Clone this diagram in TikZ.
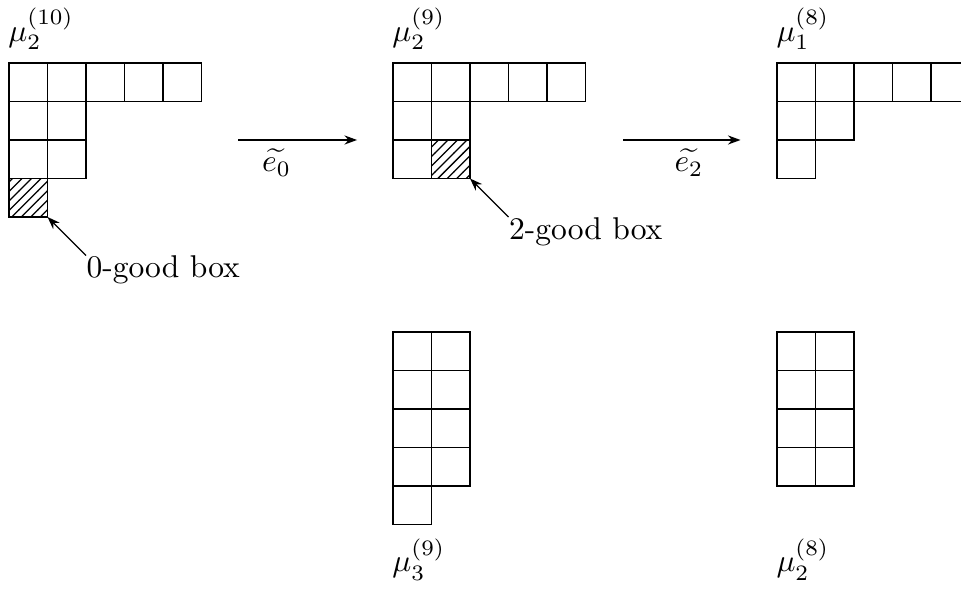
\documentclass[tikz,border=0pt]{standalone}
\usepackage{tikz}
\usetikzlibrary{arrows.meta, calc, patterns}
\usepackage{amsmath}

\begin{document}
\begin{tikzpicture}[
  x=12.22pt, y=12.22pt,
  ybox/.style={draw=black, line width=0.4pt},
  yhatch/.style={pattern=north east lines},
  flow/.style={draw=black, line width=0.4pt, -{Stealth[length=4pt, width=2.9pt]}},
  ptr/.style={draw=black, line width=0.4pt, -{Stealth[length=4pt, width=2.9pt]}},
  lab/.style={inner sep=0pt}
]
\clip (-0.234,1.636) rectangle (24.727,-13.637);

%--------------------------------------------------------------
% Origini dei diagrammi di Young (angolo in alto a sinistra)
%--------------------------------------------------------------
\coordinate (dA) at (0,0);
\coordinate (dB) at (9.974,0);
\coordinate (dC) at (19.948,0);
\coordinate (dD) at (9.974,-6.987);
\coordinate (dE) at (19.948,-6.987);

% caselle buone (tratteggiate)
\fill[yhatch] ($(dA)+(0,-3)$) rectangle ++(1,-1);
\fill[yhatch] ($(dB)+(1,-2)$) rectangle ++(1,-1);

% caselle, riga per riga
\foreach \d/\r/\n in {dA/1/5, dA/2/2, dA/3/2, dA/4/1,
                      dB/1/5, dB/2/2, dB/3/2,
                      dC/1/5, dC/2/2, dC/3/1,
                      dD/1/2, dD/2/2, dD/3/2, dD/4/2, dD/5/1,
                      dE/1/2, dE/2/2, dE/3/2, dE/4/2}{
  \foreach \c in {1,...,\n}{
    \draw[ybox] ($(\d)+(\c-1,1-\r)$) rectangle ++(1,-1);
  }
}

%--------------------------------------------------------------
% Etichette dei diagrammi
%--------------------------------------------------------------
\node[lab, anchor=base west] (tA) at ($(dA)+(-0.03,0.57)$) {$\mu_2^{(10)}$};
\node[lab, anchor=base west] (tB) at ($(dB)+(-0.03,0.57)$) {$\mu_2^{(9)}$};
\node[lab, anchor=base west] (tC) at ($(dC)+(-0.03,0.57)$) {$\mu_1^{(8)}$};
\node[lab, anchor=base west] (tD) at ($(dD)+(-0.03,-6.23)$) {$\mu_3^{(9)}$};
\node[lab, anchor=base west] (tE) at ($(dE)+(-0.03,-6.23)$) {$\mu_2^{(8)}$};

%--------------------------------------------------------------
% Operatori di cristallo
%--------------------------------------------------------------
\coordinate (a0s) at ($(dA)+(5.95,-2)$);
\coordinate (a0e) at ($(dA)+(9.04,-2)$);
\coordinate (a2s) at ($(dA)+(15.95,-2)$);
\coordinate (a2e) at ($(dA)+(19.00,-2)$);
\draw[flow] (a0s) -- (a0e);
\draw[flow] (a2s) -- (a2e);
\node[lab, anchor=base] (e0) at ($(dA)+(6.95,-2.83)$) {$\widetilde{e_0}$};
\node[lab, anchor=base] (e2) at ($(dA)+(17.66,-2.83)$) {$\widetilde{e_2}$};

%--------------------------------------------------------------
% Indicazioni delle caselle buone
%--------------------------------------------------------------
\coordinate (h0) at ($(dA)+(1,-4)$);
\coordinate (h2) at ($(dB)+(2,-3)$);
\node[lab, anchor=north west] (g0) at ($(dA)+(2,-5)$) {0-good box};
\node[lab, anchor=north west] (g2) at ($(dB)+(3,-4)$) {2-good box};
\draw[ptr] (g0.north west) -- (h0);
\draw[ptr] (g2.north west) -- (h2);

\end{tikzpicture}
\end{document}
